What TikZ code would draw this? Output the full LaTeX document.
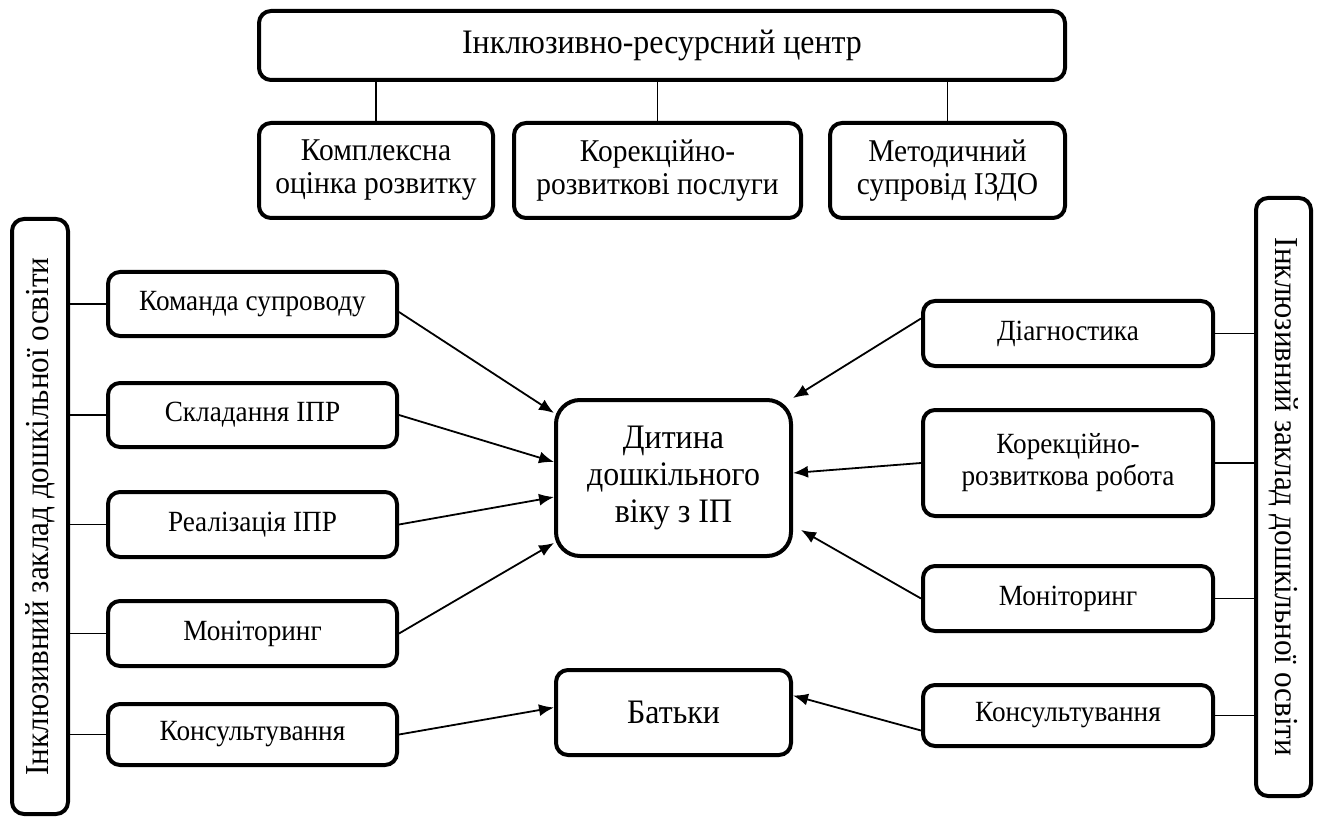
\documentclass[tikz,border=0pt]{standalone}
\usepackage{fontspec}
\setmainfont{Liberation Serif}[FakeStretch=0.93]
\usetikzlibrary{arrows.meta}

\begin{document}
\begin{tikzpicture}[x=1pt,y=-1pt,
    box/.style={draw,line width=4pt,rounded corners=12pt,align=center,inner sep=2pt},
    link/.style={line width=1.8pt},
    arr/.style={line width=1.8pt,-{Latex[length=15pt,width=12pt]}},
    bigtext/.style={font=\fontsize{34.3}{37}\selectfont},
    bartext/.style={font=\fontsize{33.5}{37}\selectfont},
    midtext/.style={font=\fontsize{31.7}{33}\selectfont},
    smalltext/.style={font=\fontsize{29.3}{32}\selectfont}]
    \useasboundingbox[fill=white] (0,0) rectangle (1317,818);

    \node[box,bigtext,minimum width=806pt,minimum height=69pt] (irc) at (662,45.5) {Інклюзивно-ресурсний центр};
    \node[box,midtext,minimum width=234pt,minimum height=95pt] (assess) at (376,170.5) {Комплексна\\оцінка розвитку};
    \node[box,midtext,minimum width=287pt,minimum height=95pt] (services) at (657.5,170.5) {Корекційно-\\розвиткові послуги};
    \node[box,midtext,minimum width=235pt,minimum height=95pt] (method) at (947.5,170.5) {Методичний\\супровід ІЗДО};
    \draw[link] (irc.south -| assess.north) -- (assess.north);
    \draw[link] (irc.south -| services.north) -- (services.north);
    \draw[link] (irc.south -| method.north) -- (method.north);

    \node[box,bartext,rotate=90,minimum width=595pt,minimum height=56pt] (lbar) at (40,516.5) {Інклюзивний заклад дошкільної освіти};
    \node[box,bartext,rotate=-90,minimum width=598pt,minimum height=55pt] (rbar) at (1283.5,497) {Інклюзивний заклад дошкільної освіти};

    \node[box,smalltext,minimum width=289pt,minimum height=64pt] (team) at (252.5,304) {Команда супроводу};
    \node[box,smalltext,minimum width=289pt,minimum height=64pt] (plan) at (252.5,415) {Складання ІПР};
    \node[box,smalltext,minimum width=289pt,minimum height=65pt] (impl) at (252.5,524.5) {Реалізація ІПР};
    \node[box,smalltext,minimum width=289pt,minimum height=65pt] (lmon) at (252.5,633.5) {Моніторинг};
    \node[box,smalltext,minimum width=289pt,minimum height=61pt] (lcons) at (252.5,734.5) {Консультування};

    \node[box,bigtext,rounded corners=24pt,minimum width=235pt,minimum height=156pt] (child) at (673.5,478) {Дитина\\дошкільного\\віку з ІП};
    \node[box,bigtext,minimum width=235pt,minimum height=85pt] (parents) at (673.5,712.5) {Батьки};

    \node[box,smalltext,minimum width=290pt,minimum height=65pt] (diag) at (1068,333.5) {Діагностика};
    \node[box,smalltext,minimum width=290pt,minimum height=106pt] (work) at (1068,463) {Корекційно-\\розвиткова робота};
    \node[box,smalltext,minimum width=290pt,minimum height=65pt] (rmon) at (1068,598.5) {Моніторинг};
    \node[box,smalltext,minimum width=290pt,minimum height=61pt] (rcons) at (1068,715.5) {Консультування};

    \draw[link] (team.west) -- (team.west -| lbar.south);
    \draw[link] (plan.west) -- (plan.west -| lbar.south);
    \draw[link] (impl.west) -- (impl.west -| lbar.south);
    \draw[link] (lmon.west) -- (lmon.west -| lbar.south);
    \draw[link] (lcons.west) -- (lcons.west -| lbar.south);
    \draw[link] (diag.east) -- (diag.east -| rbar.south);
    \draw[link] (work.east) -- (work.east -| rbar.south);
    \draw[link] (rmon.east) -- (rmon.east -| rbar.south);
    \draw[link] (rcons.east) -- (rcons.east -| rbar.south);

    \draw[arr] ([yshift=-8pt]team.east) -- ([yshift=65pt]child.west);
    \draw[arr] (plan.east) -- ([yshift=16pt]child.west);
    \draw[arr] (impl.east) -- ([yshift=-19pt]child.west);
    \draw[arr] (lmon.east) -- ([yshift=-65pt]child.west);
    \draw[arr] (lcons.east) -- ([yshift=5pt]parents.west);
    \draw[arr] ([yshift=15pt]diag.west) -- (child.north east);
    \draw[arr] (work.west) -- ([yshift=5pt]child.east);
    \draw[arr] (rmon.west) -- ([xshift=8pt,yshift=-52pt]child.east);
    \draw[arr] ([yshift=-15pt]rcons.west) -- ([yshift=17pt]parents.east);
\end{tikzpicture}
\end{document}
